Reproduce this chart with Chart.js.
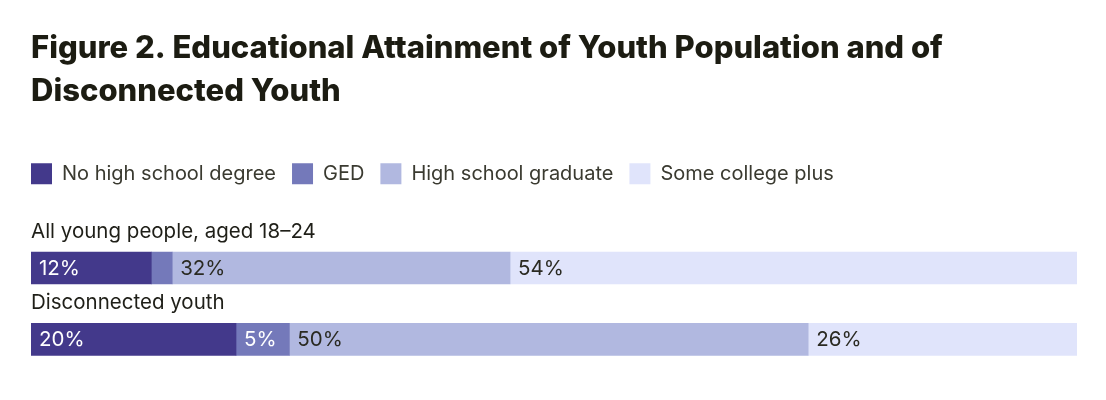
<!DOCTYPE html>
<html>
<head>
<meta charset="utf-8">
<script src="https://cdn.jsdelivr.net/npm/chart.js@4/dist/chart.umd.min.js"></script>
<style>
  body { margin: 0; background: #fff; }
  .wrap { width: 1106px; height: 400px; }
</style>
</head>
<body>
<div class="wrap"><canvas id="attainment"></canvas></div>
<script>
// data
let groups = ["All young people, aged 18\u201324", "Disconnected youth"];
let noDegree = [11.5, 19.6];
let ged = [2.0, 5.1];
let hsGrad = [32.3, 49.6];
let someCollege = [54.2, 25.7];

let font = { family: "Inter", size: 20 };
let textDark = "#2a2a22";

// labels above each bar + percent labels inside the segments
let barText = {
  id: "barText",
  afterDatasetsDraw(chart) {
    let ctx = chart.ctx;
    ctx.save();
    ctx.font = "400 20.5px Inter";
    ctx.textBaseline = "middle";
    ctx.textAlign = "left";

    // group names
    let meta0 = chart.getDatasetMeta(0);
    meta0.data.forEach((bar, i) => {
      ctx.fillStyle = "#1f1f18";
      ctx.fillText(groups[i], chart.chartArea.left, bar.y - bar.height / 2 - 20);
    });

    // values
    chart.data.datasets.forEach((ds, d) => {
      let meta = chart.getDatasetMeta(d);
      meta.data.forEach((bar, i) => {
        let v = ds.data[i];
        if (v < 3) return;
        ctx.fillStyle = d < 2 ? "#ffffff" : textDark;
        ctx.fillText(Math.round(v) + "%", bar.base + 8, bar.y + 1);
      });
    });
    ctx.restore();
  },
};

// extra space under the legend
let legendGap = {
  id: "legendGap",
  beforeInit(chart) {
    let fit = chart.legend.fit;
    chart.legend.fit = function () {
      fit.bind(chart.legend)();
      this.height += 38;
    };
  },
  beforeDraw(chart) {
    // line the legend up with the bars / title
    chart.legend.left = chart.chartArea.left - chart.legend.options.labels.padding;
  },
};

let ctx = document.getElementById("attainment");
new Chart(ctx, {
  type: "bar",
  plugins: [legendGap, barText],
  options: {
    indexAxis: "y",
    responsive: true,
    maintainAspectRatio: false,
    animation: false,
    layout: {
      padding: { left: 31, right: 29, top: 0, bottom: 25 },
    },
    plugins: {
      title: {
        display: true,
        align: "start",
        text: [
          "Figure 2. Educational Attainment of Youth Population and of",
          "Disconnected Youth",
        ],
        color: "#1c1c12",
        font: { family: "Inter", size: 31, weight: "800", lineHeight: 1.36 },
        padding: { top: 28, bottom: 35 },
      },
      legend: {
        align: "start",
        labels: {
          font: font,
          color: "#3a3a30",
          boxWidth: 21,
          boxHeight: 21,
          padding: 16,
        },
      },
      tooltip: { enabled: false },
    },
    scales: {
      x: {
        display: false,
        stacked: true,
        min: 0,
        max: 100,
      },
      y: {
        display: false,
        stacked: true,
      },
    },
  },
  data: {
    labels: groups,
    datasets: [
      {
        label: "No high school degree",
        backgroundColor: "#43398b",
        data: noDegree,
        barThickness: 32,
        borderWidth: 0,
      },
      {
        label: "GED",
        backgroundColor: "#7479ba",
        data: ged,
        barThickness: 32,
        borderWidth: 0,
      },
      {
        label: "High school graduate",
        backgroundColor: "#b1b8e0",
        data: hsGrad,
        barThickness: 32,
        borderWidth: 0,
      },
      {
        label: "Some college plus",
        backgroundColor: "#e0e4fb",
        data: someCollege,
        barThickness: 32,
        borderWidth: 0,
      },
    ],
  },
});
</script>
</body>
</html>
